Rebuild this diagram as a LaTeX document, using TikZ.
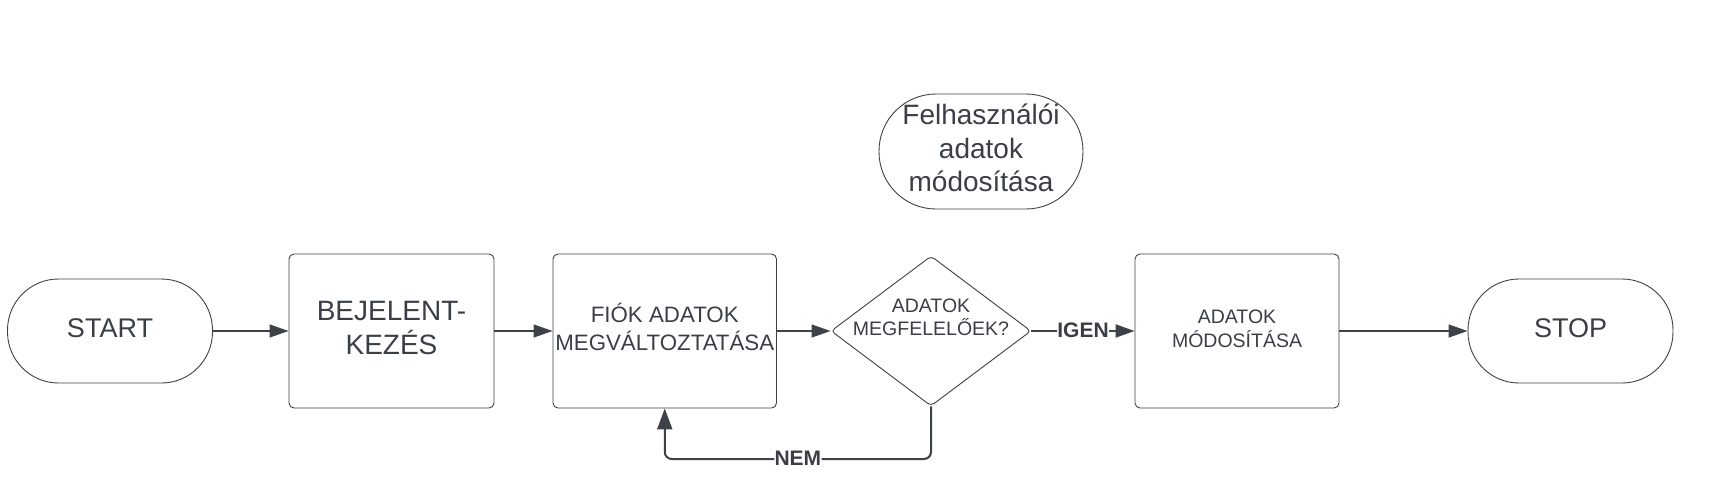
\documentclass[tikz,border=0pt]{standalone}
\usepackage{fontspec}
\setmainfont{Liberation Sans}
\usetikzlibrary{shapes.geometric,arrows.meta}
\definecolor{ink}{HTML}{3A3F47}
\definecolor{edge}{HTML}{3D4148}
\newcommand{\mylift}[2]{\raisebox{#1}{\begin{tabular}{@{}c@{}}#2\end{tabular}}}
\begin{document}
\begin{tikzpicture}[x=1pt,y=1pt,
  base/.style={draw=edge,line width=0.9pt,fill=white,text=ink,align=center,inner sep=0pt},
  term/.style={base,rounded corners=51pt,minimum width=205pt,minimum height=104pt,font=\fontsize{27}{32}\selectfont},
  proc/.style={base,rounded corners=5pt,minimum height=154pt},
  decision/.style={base,diamond,minimum width=200pt,minimum height=150pt,rounded corners=4pt},
  dtext/.style={text=ink,align=center,inner sep=0pt,font=\fontsize{19.5}{23}\selectfont},
  flow/.style={draw=edge,line width=1.4pt,-{Triangle[length=19pt,width=13pt]}},
  flowb/.style={draw=edge,line width=2pt,rounded corners=7pt,-{Triangle[length=21pt,width=15pt]}},
  lbl/.style={font=\bfseries\fontsize{21}{24}\selectfont,text=ink,fill=white,inner sep=0.3pt}]
\useasboundingbox (0,0) rectangle (1710,-493);

\node[term] (start) at (110,-331) {\mylift{3.5pt}{START}};
\node[proc,minimum width=205pt,font=\fontsize{28}{33}\selectfont] (bej) at (391.5,-331) {\mylift{4.5pt}{BEJELENT-\\KEZÉS}};
\node[proc,minimum width=223.5pt,font=\fontsize{22.3}{27}\selectfont] (fiok) at (664.75,-331) {\mylift{3.5pt}{FIÓK ADATOK\\MEGVÁLTOZTATÁSA}};
\node[decision] (dec) at (931,-331) {};
\node[dtext] (dect) at ([yshift=14pt]dec.center) {ADATOK\\MEGFELELŐEK?};
\node[proc,minimum width=204pt,font=\fontsize{19.5}{24}\selectfont] (adm) at (1237,-331) {\mylift{1pt}{ADATOK\\MÓDOSÍTÁSA}};
\node[term] (stop) at (1570.5,-331) {\mylift{3.5pt}{STOP}};
\node[base,rounded corners=57pt,minimum width=204pt,minimum height=115pt,font=\fontsize{28}{33.5}\selectfont] (felh) at (981,-151.5) {\mylift{3pt}{Felhasználói\\adatok\\módosítása}};

\coordinate (loopy) at (0,-459);

\draw[flow] (start) -- (bej);
\draw[flow] (bej) -- (fiok);
\draw[flow] (fiok) -- (dec);
\draw[flow,line width=2pt] (dec.east) -- node[lbl] (igen) {\raisebox{2pt}{IGEN}} (adm.west);
\draw[flow] (adm) -- (stop);
\draw[flowb] (dec.south) -- (dec.south |- loopy) -- node[lbl] (nem) {\raisebox{2pt}{NEM}} (fiok.south |- loopy) -- (fiok.south);
\end{tikzpicture}
\end{document}
